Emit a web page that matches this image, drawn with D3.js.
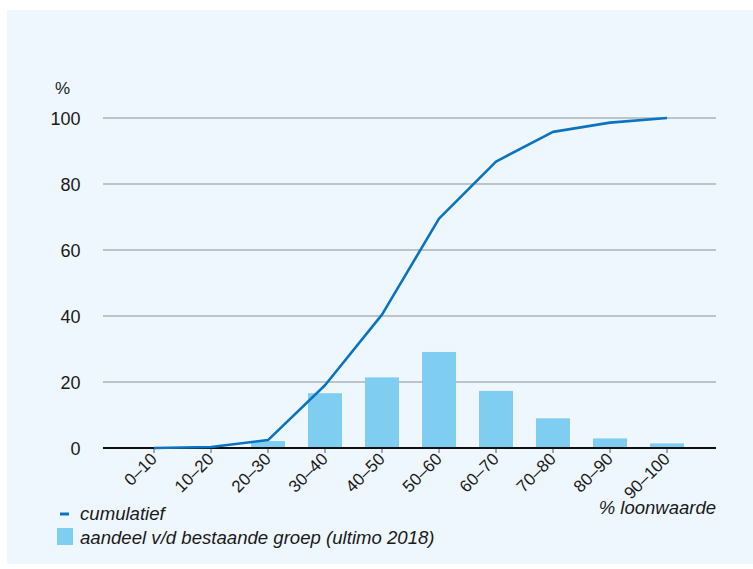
<!DOCTYPE html>
<html>
<head>
<meta charset="utf-8">
<script src="https://cdn.jsdelivr.net/npm/d3@7"></script>
<style>
  html, body { margin: 0; padding: 0; background: #ffffff; }
  svg { display: block; font-family: "Liberation Sans", Arial, sans-serif; }
</style>
</head>
<body>
<svg id="chart" width="753" height="569"></svg>
<script>
// Loonwaarde classes (percent)
const categories = ["0\u201310", "10\u201320", "20\u201330", "30\u201340", "40\u201350",
                    "50\u201360", "60\u201370", "70\u201380", "80\u201390", "90\u2013100"];
// Share of the existing group per class (ultimo 2018), %
const shareValues = [0, 0.3, 2.1, 16.6, 21.4, 29.1, 17.3, 9.0, 2.9, 1.4];
// Cumulative share, %
const cumulativeValues = [0, 0.3, 2.4, 19.0, 40.4, 69.5, 86.8, 95.8, 98.6, 100];
// Y axis ticks
const yTicks = [0, 20, 40, 60, 80, 100];

const svg = d3.select("#chart");

// panel background
svg.append("rect")
  .attr("x", 7).attr("y", 10).attr("width", 746).attr("height", 554)
  .attr("fill", "#eef7fd");

const plotLeft = 103, plotRight = 716;
const x = d3.scaleBand().domain(categories).range([125.5, 695.5]).paddingInner(0.4).paddingOuter(0.2);
const xc = d => x(d) + x.bandwidth() / 2;
const y = d3.scaleLinear().domain([0, 100]).range([448, 118]);

// gridlines
svg.append("g")
  .selectAll("line")
  .data(yTicks.filter(t => t > 0))
  .join("line")
  .attr("x1", plotLeft).attr("x2", plotRight)
  .attr("y1", d => y(d)).attr("y2", d => y(d))
  .attr("stroke", "#8c8f92").attr("stroke-width", 1.2);

// y tick labels
svg.append("g")
  .selectAll("text")
  .data(yTicks)
  .join("text")
  .attr("x", 80.5).attr("y", d => y(d) + 6.5)
  .attr("text-anchor", "end")
  .attr("font-size", 18)
  .attr("fill", "#1a1a1a")
  .text(d => d);

svg.append("text")
  .attr("x", 55).attr("y", 94)
  .attr("font-size", 17).attr("fill", "#1a1a1a")
  .text("%");

// bars
svg.append("g")
  .selectAll("rect")
  .data(categories.map((c, i) => ({ c, v: shareValues[i] })))
  .join("rect")
  .attr("x", d => xc(d.c) - 17)
  .attr("width", 34)
  .attr("y", d => y(d.v))
  .attr("height", d => y(0) - y(d.v))
  .attr("fill", "#7fcdf1");

// x axis
const xAxis = d3.axisBottom(x).tickSize(5).tickSizeOuter(0);
const gx = svg.append("g").attr("transform", `translate(0,${y(0)})`).call(xAxis);
gx.select(".domain").remove();
gx.selectAll(".tick line").attr("stroke", "#333").attr("stroke-width", 0.8);
gx.selectAll(".tick text")
  .attr("font-size", 17)
  .attr("fill", "#1a1a1a")
  .attr("text-anchor", "end")
  .attr("dy", null)
  .attr("transform", "translate(4,12) rotate(-45)")
  .attr("y", 0).attr("x", 0);

svg.append("line")
  .attr("x1", plotLeft).attr("x2", plotRight)
  .attr("y1", y(0)).attr("y2", y(0))
  .attr("stroke", "#111").attr("stroke-width", 1.8);

// cumulative line
const line = d3.line()
  .x((d, i) => xc(categories[i]))
  .y(d => y(d));
svg.append("path")
  .datum(cumulativeValues)
  .attr("d", line)
  .attr("fill", "none")
  .attr("stroke", "#0a74c2")
  .attr("stroke-width", 2.6)
  .attr("stroke-linejoin", "round");

// x axis title
svg.append("text")
  .attr("x", plotRight).attr("y", 514)
  .attr("text-anchor", "end")
  .attr("font-size", 18.5).attr("font-style", "italic").attr("fill", "#1a1a1a")
  .text("% loonwaarde");

// legend
const legend = svg.append("g");
legend.append("line")
  .attr("x1", 60).attr("x2", 69).attr("y1", 514).attr("y2", 514)
  .attr("stroke", "#0a74c2").attr("stroke-width", 3);
legend.append("text")
  .attr("x", 80).attr("y", 520)
  .attr("font-size", 18.6).attr("font-style", "italic").attr("fill", "#1a1a1a")
  .text("cumulatief");
legend.append("rect")
  .attr("x", 57).attr("y", 528).attr("width", 16).attr("height", 17)
  .attr("fill", "#7fcdf1");
legend.append("text")
  .attr("x", 80).attr("y", 544)
  .attr("font-size", 18.6).attr("font-style", "italic").attr("fill", "#1a1a1a")
  .text("aandeel v/d bestaande groep (ultimo 2018)");
</script>
</body>
</html>
